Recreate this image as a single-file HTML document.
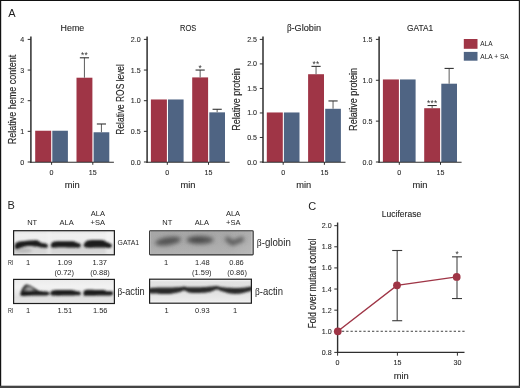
<!DOCTYPE html>
<html><head><meta charset="utf-8"><style>
html,body{margin:0;padding:0;background:#fff;}
body{width:520px;height:388px;overflow:hidden;position:relative;}
svg{position:absolute;left:0;top:0;display:block;will-change:transform;}
</style></head><body>
<svg width="520" height="388" viewBox="0 0 520 388" font-family='"Liberation Sans", sans-serif'>
<defs>
<filter id="b1" x="-20%" y="-80%" width="140%" height="260%"><feGaussianBlur stdDeviation="1.05"/></filter>
<filter id="b1b" x="-30%" y="-100%" width="160%" height="300%"><feGaussianBlur stdDeviation="1.6"/></filter>
<filter id="b2" x="-30%" y="-100%" width="160%" height="300%"><feGaussianBlur stdDeviation="2.3"/></filter>
<filter id="b3" x="-20%" y="-80%" width="140%" height="260%"><feGaussianBlur stdDeviation="1.25"/></filter>
<filter id="noise" x="0" y="0" width="100%" height="100%"><feTurbulence type="fractalNoise" baseFrequency="0.9" numOctaves="1" seed="3" result="t"/><feColorMatrix in="t" type="matrix" values="0 0 0 0 0.5  0 0 0 0 0.5  0 0 0 0 0.5  0 0 0 0.12 0"/></filter>
<linearGradient id="gbg1" x1="0" y1="231" x2="0" y2="255" gradientUnits="userSpaceOnUse">
 <stop offset="0" stop-color="#e2e2e2"/><stop offset="0.14" stop-color="#efefef"/><stop offset="0.35" stop-color="#eeeeee"/>
 <stop offset="0.72" stop-color="#d4d4d4"/><stop offset="0.9" stop-color="#d8d8d8"/><stop offset="1" stop-color="#e6e6e6"/></linearGradient>
<linearGradient id="gbg2" x1="0" y1="280" x2="0" y2="303" gradientUnits="userSpaceOnUse">
 <stop offset="0" stop-color="#ececec"/><stop offset="0.3" stop-color="#f2f2f2"/><stop offset="0.75" stop-color="#e0e0e0"/><stop offset="1" stop-color="#e6e6e6"/></linearGradient>
<linearGradient id="gbg3" x1="0" y1="231" x2="0" y2="255" gradientUnits="userSpaceOnUse">
 <stop offset="0" stop-color="#a4a4a4"/><stop offset="0.5" stop-color="#a8a8a8"/><stop offset="1" stop-color="#b0b0b0"/></linearGradient>
<linearGradient id="gbg3h" x1="149" y1="0" x2="254" y2="0" gradientUnits="userSpaceOnUse">
 <stop offset="0" stop-color="#fff" stop-opacity="0"/><stop offset="0.75" stop-color="#fff" stop-opacity="0.02"/><stop offset="1" stop-color="#fff" stop-opacity="0.12"/></linearGradient>
<linearGradient id="gbg4" x1="0" y1="280" x2="0" y2="303" gradientUnits="userSpaceOnUse">
 <stop offset="0" stop-color="#f4f4f4"/><stop offset="0.08" stop-color="#e2e2e2"/><stop offset="0.5" stop-color="#e0e0e0"/><stop offset="0.9" stop-color="#ebebeb"/><stop offset="1" stop-color="#f6f6f6"/></linearGradient>
<clipPath id="c1"><rect x="13.6" y="230.7" width="100.8" height="24.1"/></clipPath>
<clipPath id="c2"><rect x="13.6" y="279.4" width="100.8" height="24.1"/></clipPath>
<clipPath id="c3"><rect x="149.6" y="230.7" width="103.6" height="24.2"/></clipPath>
<clipPath id="c4"><rect x="149.6" y="279.2" width="101.8" height="24.0"/></clipPath>
</defs>
<rect x="0" y="0" width="520" height="388" fill="#fff"/>
<rect x="35.20" y="130.74" width="16.0" height="31.26" fill="#9f3546"/>
<rect x="52.30" y="130.74" width="15.6" height="31.26" fill="#4f6483"/>
<rect x="76.50" y="77.71" width="15.9" height="84.29" fill="#9f3546"/>
<line x1="84.45" y1="77.71" x2="84.45" y2="57.79" stroke="#6a6a6a" stroke-width="1.1"/>
<line x1="79.85" y1="57.79" x2="89.05" y2="57.79" stroke="#333" stroke-width="1.1"/>
<rect x="93.60" y="132.27" width="15.7" height="29.73" fill="#4f6483"/>
<line x1="101.45" y1="132.27" x2="101.45" y2="123.99" stroke="#6a6a6a" stroke-width="1.1"/>
<line x1="96.85" y1="123.99" x2="106.05" y2="123.99" stroke="#333" stroke-width="1.1"/>
<text x="84.50" y="58.29" font-size="8.3" text-anchor="middle" fill="#333" font-family='"Liberation Sans", sans-serif' letter-spacing="0.3">**</text>
<line x1="30.90" y1="36.6" x2="30.90" y2="162.80" stroke="#2e2e2e" stroke-width="1.5"/>
<line x1="30.20" y1="162.30" x2="113.90" y2="162.30" stroke="#2e2e2e" stroke-width="1.1"/>
<line x1="27.70" y1="162.00" x2="30.90" y2="162.00" stroke="#2e2e2e" stroke-width="1"/>
<text x="24.30" y="164.50" font-size="7.1" text-anchor="end" fill="#262626" stroke="#262626" stroke-width="0.08" font-family='"Liberation Sans", sans-serif' >0</text>
<line x1="27.70" y1="131.35" x2="30.90" y2="131.35" stroke="#2e2e2e" stroke-width="1"/>
<text x="24.30" y="133.85" font-size="7.1" text-anchor="end" fill="#262626" stroke="#262626" stroke-width="0.08" font-family='"Liberation Sans", sans-serif' >1</text>
<line x1="27.70" y1="100.70" x2="30.90" y2="100.70" stroke="#2e2e2e" stroke-width="1"/>
<text x="24.30" y="103.20" font-size="7.1" text-anchor="end" fill="#262626" stroke="#262626" stroke-width="0.08" font-family='"Liberation Sans", sans-serif' >2</text>
<line x1="27.70" y1="70.05" x2="30.90" y2="70.05" stroke="#2e2e2e" stroke-width="1"/>
<text x="24.30" y="72.55" font-size="7.1" text-anchor="end" fill="#262626" stroke="#262626" stroke-width="0.08" font-family='"Liberation Sans", sans-serif' >3</text>
<line x1="27.70" y1="39.40" x2="30.90" y2="39.40" stroke="#2e2e2e" stroke-width="1"/>
<text x="24.30" y="41.90" font-size="7.1" text-anchor="end" fill="#262626" stroke="#262626" stroke-width="0.08" font-family='"Liberation Sans", sans-serif' >4</text>
<line x1="51.60" y1="162.00" x2="51.60" y2="164.80" stroke="#2e2e2e" stroke-width="1"/>
<text x="51.60" y="174.70" font-size="7.1" text-anchor="middle" fill="#262626" stroke="#262626" stroke-width="0.08" font-family='"Liberation Sans", sans-serif' >0</text>
<line x1="92.80" y1="162.00" x2="92.80" y2="164.80" stroke="#2e2e2e" stroke-width="1"/>
<text x="92.80" y="174.70" font-size="7.1" text-anchor="middle" fill="#262626" stroke="#262626" stroke-width="0.08" font-family='"Liberation Sans", sans-serif' >15</text>
<text x="72.20" y="188.00" font-size="9.2" text-anchor="middle" fill="#262626" stroke="#262626" stroke-width="0.12" font-family='"Liberation Sans", sans-serif' textLength="15.0" lengthAdjust="spacingAndGlyphs" >min</text>
<text x="72.40" y="31.40" font-size="9.6" text-anchor="middle" fill="#262626" stroke="#262626" stroke-width="0.12" font-family='"Liberation Sans", sans-serif' textLength="23.6" lengthAdjust="spacingAndGlyphs" >Heme</text>
<text transform="translate(15.60,99.40) rotate(-90)" x="0" y="0" font-size="10.1" text-anchor="middle" fill="#262626" stroke="#262626" stroke-width="0.15" font-family='"Liberation Sans", sans-serif' textLength="89.5" lengthAdjust="spacingAndGlyphs">Relative heme content</text>
<rect x="150.90" y="99.47" width="16.0" height="62.53" fill="#9f3546"/>
<rect x="168.00" y="99.47" width="15.6" height="62.53" fill="#4f6483"/>
<rect x="192.20" y="77.41" width="15.9" height="84.59" fill="#9f3546"/>
<line x1="200.15" y1="77.41" x2="200.15" y2="70.05" stroke="#6a6a6a" stroke-width="1.1"/>
<line x1="195.55" y1="70.05" x2="204.75" y2="70.05" stroke="#333" stroke-width="1.1"/>
<rect x="209.30" y="112.35" width="15.7" height="49.65" fill="#4f6483"/>
<line x1="217.15" y1="112.35" x2="217.15" y2="109.28" stroke="#6a6a6a" stroke-width="1.1"/>
<line x1="212.55" y1="109.28" x2="221.75" y2="109.28" stroke="#333" stroke-width="1.1"/>
<text x="200.20" y="70.55" font-size="8.3" text-anchor="middle" fill="#333" font-family='"Liberation Sans", sans-serif' letter-spacing="0.3">*</text>
<line x1="147.10" y1="36.6" x2="147.10" y2="162.80" stroke="#2e2e2e" stroke-width="1.5"/>
<line x1="146.40" y1="162.30" x2="229.60" y2="162.30" stroke="#2e2e2e" stroke-width="1.1"/>
<line x1="143.90" y1="162.00" x2="147.10" y2="162.00" stroke="#2e2e2e" stroke-width="1"/>
<text x="140.60" y="164.50" font-size="7.1" text-anchor="end" fill="#262626" stroke="#262626" stroke-width="0.08" font-family='"Liberation Sans", sans-serif' >0.0</text>
<line x1="143.90" y1="131.35" x2="147.10" y2="131.35" stroke="#2e2e2e" stroke-width="1"/>
<text x="140.60" y="133.85" font-size="7.1" text-anchor="end" fill="#262626" stroke="#262626" stroke-width="0.08" font-family='"Liberation Sans", sans-serif' >0.5</text>
<line x1="143.90" y1="100.70" x2="147.10" y2="100.70" stroke="#2e2e2e" stroke-width="1"/>
<text x="140.60" y="103.20" font-size="7.1" text-anchor="end" fill="#262626" stroke="#262626" stroke-width="0.08" font-family='"Liberation Sans", sans-serif' >1.0</text>
<line x1="143.90" y1="70.05" x2="147.10" y2="70.05" stroke="#2e2e2e" stroke-width="1"/>
<text x="140.60" y="72.55" font-size="7.1" text-anchor="end" fill="#262626" stroke="#262626" stroke-width="0.08" font-family='"Liberation Sans", sans-serif' >1.5</text>
<line x1="143.90" y1="39.40" x2="147.10" y2="39.40" stroke="#2e2e2e" stroke-width="1"/>
<text x="140.60" y="41.90" font-size="7.1" text-anchor="end" fill="#262626" stroke="#262626" stroke-width="0.08" font-family='"Liberation Sans", sans-serif' >2.0</text>
<line x1="167.30" y1="162.00" x2="167.30" y2="164.80" stroke="#2e2e2e" stroke-width="1"/>
<text x="167.30" y="174.70" font-size="7.1" text-anchor="middle" fill="#262626" stroke="#262626" stroke-width="0.08" font-family='"Liberation Sans", sans-serif' >0</text>
<line x1="208.50" y1="162.00" x2="208.50" y2="164.80" stroke="#2e2e2e" stroke-width="1"/>
<text x="208.50" y="174.70" font-size="7.1" text-anchor="middle" fill="#262626" stroke="#262626" stroke-width="0.08" font-family='"Liberation Sans", sans-serif' >15</text>
<text x="187.90" y="188.00" font-size="9.2" text-anchor="middle" fill="#262626" stroke="#262626" stroke-width="0.12" font-family='"Liberation Sans", sans-serif' textLength="15.0" lengthAdjust="spacingAndGlyphs" >min</text>
<text x="188.10" y="31.40" font-size="9.6" text-anchor="middle" fill="#262626" stroke="#262626" stroke-width="0.12" font-family='"Liberation Sans", sans-serif' textLength="16.2" lengthAdjust="spacingAndGlyphs" >ROS</text>
<text transform="translate(124.40,99.40) rotate(-90)" x="0" y="0" font-size="10.1" text-anchor="middle" fill="#262626" stroke="#262626" stroke-width="0.15" font-family='"Liberation Sans", sans-serif' textLength="70.5" lengthAdjust="spacingAndGlyphs">Relative ROS level</text>
<rect x="266.80" y="112.47" width="16.0" height="49.53" fill="#9f3546"/>
<rect x="283.90" y="112.47" width="15.6" height="49.53" fill="#4f6483"/>
<rect x="308.10" y="74.22" width="15.9" height="87.78" fill="#9f3546"/>
<line x1="316.05" y1="74.22" x2="316.05" y2="66.37" stroke="#6a6a6a" stroke-width="1.1"/>
<line x1="311.45" y1="66.37" x2="320.65" y2="66.37" stroke="#333" stroke-width="1.1"/>
<rect x="325.20" y="108.79" width="15.7" height="53.21" fill="#4f6483"/>
<line x1="333.05" y1="108.79" x2="333.05" y2="100.95" stroke="#6a6a6a" stroke-width="1.1"/>
<line x1="328.45" y1="100.95" x2="337.65" y2="100.95" stroke="#333" stroke-width="1.1"/>
<text x="316.10" y="66.87" font-size="8.3" text-anchor="middle" fill="#333" font-family='"Liberation Sans", sans-serif' letter-spacing="0.3">**</text>
<line x1="263.00" y1="36.6" x2="263.00" y2="162.80" stroke="#2e2e2e" stroke-width="1.5"/>
<line x1="262.30" y1="162.30" x2="345.50" y2="162.30" stroke="#2e2e2e" stroke-width="1.1"/>
<line x1="259.80" y1="162.00" x2="263.00" y2="162.00" stroke="#2e2e2e" stroke-width="1"/>
<text x="257.00" y="164.50" font-size="7.1" text-anchor="end" fill="#262626" stroke="#262626" stroke-width="0.08" font-family='"Liberation Sans", sans-serif' >0.0</text>
<line x1="259.80" y1="137.48" x2="263.00" y2="137.48" stroke="#2e2e2e" stroke-width="1"/>
<text x="257.00" y="139.98" font-size="7.1" text-anchor="end" fill="#262626" stroke="#262626" stroke-width="0.08" font-family='"Liberation Sans", sans-serif' >0.5</text>
<line x1="259.80" y1="112.96" x2="263.00" y2="112.96" stroke="#2e2e2e" stroke-width="1"/>
<text x="257.00" y="115.46" font-size="7.1" text-anchor="end" fill="#262626" stroke="#262626" stroke-width="0.08" font-family='"Liberation Sans", sans-serif' >1.0</text>
<line x1="259.80" y1="88.44" x2="263.00" y2="88.44" stroke="#2e2e2e" stroke-width="1"/>
<text x="257.00" y="90.94" font-size="7.1" text-anchor="end" fill="#262626" stroke="#262626" stroke-width="0.08" font-family='"Liberation Sans", sans-serif' >1.5</text>
<line x1="259.80" y1="63.92" x2="263.00" y2="63.92" stroke="#2e2e2e" stroke-width="1"/>
<text x="257.00" y="66.42" font-size="7.1" text-anchor="end" fill="#262626" stroke="#262626" stroke-width="0.08" font-family='"Liberation Sans", sans-serif' >2.0</text>
<line x1="259.80" y1="39.40" x2="263.00" y2="39.40" stroke="#2e2e2e" stroke-width="1"/>
<text x="257.00" y="41.90" font-size="7.1" text-anchor="end" fill="#262626" stroke="#262626" stroke-width="0.08" font-family='"Liberation Sans", sans-serif' >2.5</text>
<line x1="283.20" y1="162.00" x2="283.20" y2="164.80" stroke="#2e2e2e" stroke-width="1"/>
<text x="283.20" y="174.70" font-size="7.1" text-anchor="middle" fill="#262626" stroke="#262626" stroke-width="0.08" font-family='"Liberation Sans", sans-serif' >0</text>
<line x1="324.40" y1="162.00" x2="324.40" y2="164.80" stroke="#2e2e2e" stroke-width="1"/>
<text x="324.40" y="174.70" font-size="7.1" text-anchor="middle" fill="#262626" stroke="#262626" stroke-width="0.08" font-family='"Liberation Sans", sans-serif' >15</text>
<text x="303.80" y="188.00" font-size="9.2" text-anchor="middle" fill="#262626" stroke="#262626" stroke-width="0.12" font-family='"Liberation Sans", sans-serif' textLength="15.0" lengthAdjust="spacingAndGlyphs" >min</text>
<text x="304.00" y="31.40" font-size="9.6" text-anchor="middle" fill="#262626" stroke="#262626" stroke-width="0.12" font-family='"Liberation Sans", sans-serif' textLength="34.2" lengthAdjust="spacingAndGlyphs" ><tspan font-family='"Liberation Serif", serif'>&#946;</tspan>-Globin</text>
<text transform="translate(240.20,99.40) rotate(-90)" x="0" y="0" font-size="10.1" text-anchor="middle" fill="#262626" stroke="#262626" stroke-width="0.15" font-family='"Liberation Sans", sans-serif' textLength="62.5" lengthAdjust="spacingAndGlyphs">Relative protein</text>
<rect x="382.90" y="79.45" width="16.0" height="82.55" fill="#9f3546"/>
<rect x="400.00" y="79.45" width="15.6" height="82.55" fill="#4f6483"/>
<rect x="424.20" y="108.22" width="15.9" height="53.78" fill="#9f3546"/>
<line x1="432.15" y1="108.22" x2="432.15" y2="105.52" stroke="#6a6a6a" stroke-width="1.1"/>
<line x1="427.55" y1="105.52" x2="436.75" y2="105.52" stroke="#333" stroke-width="1.1"/>
<rect x="441.30" y="83.70" width="15.7" height="78.30" fill="#4f6483"/>
<line x1="449.15" y1="83.70" x2="449.15" y2="68.42" stroke="#6a6a6a" stroke-width="1.1"/>
<line x1="444.55" y1="68.42" x2="453.75" y2="68.42" stroke="#333" stroke-width="1.1"/>
<text x="432.20" y="106.02" font-size="8.3" text-anchor="middle" fill="#333" font-family='"Liberation Sans", sans-serif' letter-spacing="0.3">***</text>
<line x1="379.10" y1="36.6" x2="379.10" y2="162.80" stroke="#2e2e2e" stroke-width="1.5"/>
<line x1="378.40" y1="162.30" x2="461.60" y2="162.30" stroke="#2e2e2e" stroke-width="1.1"/>
<line x1="375.90" y1="162.00" x2="379.10" y2="162.00" stroke="#2e2e2e" stroke-width="1"/>
<text x="372.40" y="164.50" font-size="7.1" text-anchor="end" fill="#262626" stroke="#262626" stroke-width="0.08" font-family='"Liberation Sans", sans-serif' >0.0</text>
<line x1="375.90" y1="121.13" x2="379.10" y2="121.13" stroke="#2e2e2e" stroke-width="1"/>
<text x="372.40" y="123.63" font-size="7.1" text-anchor="end" fill="#262626" stroke="#262626" stroke-width="0.08" font-family='"Liberation Sans", sans-serif' >0.5</text>
<line x1="375.90" y1="80.27" x2="379.10" y2="80.27" stroke="#2e2e2e" stroke-width="1"/>
<text x="372.40" y="82.77" font-size="7.1" text-anchor="end" fill="#262626" stroke="#262626" stroke-width="0.08" font-family='"Liberation Sans", sans-serif' >1.0</text>
<line x1="375.90" y1="39.40" x2="379.10" y2="39.40" stroke="#2e2e2e" stroke-width="1"/>
<text x="372.40" y="41.90" font-size="7.1" text-anchor="end" fill="#262626" stroke="#262626" stroke-width="0.08" font-family='"Liberation Sans", sans-serif' >1.5</text>
<line x1="399.30" y1="162.00" x2="399.30" y2="164.80" stroke="#2e2e2e" stroke-width="1"/>
<text x="399.30" y="174.70" font-size="7.1" text-anchor="middle" fill="#262626" stroke="#262626" stroke-width="0.08" font-family='"Liberation Sans", sans-serif' >0</text>
<line x1="440.50" y1="162.00" x2="440.50" y2="164.80" stroke="#2e2e2e" stroke-width="1"/>
<text x="440.50" y="174.70" font-size="7.1" text-anchor="middle" fill="#262626" stroke="#262626" stroke-width="0.08" font-family='"Liberation Sans", sans-serif' >15</text>
<text x="419.90" y="188.00" font-size="9.2" text-anchor="middle" fill="#262626" stroke="#262626" stroke-width="0.12" font-family='"Liberation Sans", sans-serif' textLength="15.0" lengthAdjust="spacingAndGlyphs" >min</text>
<text x="420.10" y="31.40" font-size="9.6" text-anchor="middle" fill="#262626" stroke="#262626" stroke-width="0.12" font-family='"Liberation Sans", sans-serif' textLength="26.0" lengthAdjust="spacingAndGlyphs" >GATA1</text>
<text transform="translate(356.80,99.40) rotate(-90)" x="0" y="0" font-size="10.1" text-anchor="middle" fill="#262626" stroke="#262626" stroke-width="0.15" font-family='"Liberation Sans", sans-serif' textLength="63" lengthAdjust="spacingAndGlyphs">Relative protein</text>
<text x="8.20" y="16.60" font-size="11" text-anchor="start" fill="#1e1e1e" font-family='"Liberation Sans", sans-serif' >A</text>
<text x="7.50" y="209.30" font-size="11" text-anchor="start" fill="#1e1e1e" font-family='"Liberation Sans", sans-serif' >B</text>
<text x="308.30" y="210.10" font-size="11" text-anchor="start" fill="#1e1e1e" font-family='"Liberation Sans", sans-serif' >C</text>
<rect x="463.8" y="39" width="13.7" height="9.8" fill="#9f3546"/>
<rect x="463.8" y="51.9" width="13.7" height="8.8" fill="#4f6483"/>
<text x="480.30" y="46.40" font-size="7.3" text-anchor="start" fill="#262626" font-family='"Liberation Sans", sans-serif' textLength="12.2" lengthAdjust="spacingAndGlyphs" >ALA</text>
<text x="480.30" y="58.90" font-size="7.3" text-anchor="start" fill="#262626" font-family='"Liberation Sans", sans-serif' textLength="28.4" lengthAdjust="spacingAndGlyphs" >ALA + SA</text>
<line x1="337.60" y1="222.5" x2="337.60" y2="352.90" stroke="#2e2e2e" stroke-width="1.4"/>
<line x1="336.90" y1="352.40" x2="464.5" y2="352.40" stroke="#2e2e2e" stroke-width="1.1"/>
<line x1="334.30" y1="352.40" x2="337.60" y2="352.40" stroke="#2e2e2e" stroke-width="1"/>
<text x="331.70" y="354.90" font-size="7.1" text-anchor="end" fill="#262626" stroke="#262626" stroke-width="0.08" font-family='"Liberation Sans", sans-serif' >0.8</text>
<line x1="334.30" y1="331.28" x2="337.60" y2="331.28" stroke="#2e2e2e" stroke-width="1"/>
<text x="331.70" y="333.78" font-size="7.1" text-anchor="end" fill="#262626" stroke="#262626" stroke-width="0.08" font-family='"Liberation Sans", sans-serif' >1.0</text>
<line x1="334.30" y1="310.16" x2="337.60" y2="310.16" stroke="#2e2e2e" stroke-width="1"/>
<text x="331.70" y="312.66" font-size="7.1" text-anchor="end" fill="#262626" stroke="#262626" stroke-width="0.08" font-family='"Liberation Sans", sans-serif' >1.2</text>
<line x1="334.30" y1="289.04" x2="337.60" y2="289.04" stroke="#2e2e2e" stroke-width="1"/>
<text x="331.70" y="291.54" font-size="7.1" text-anchor="end" fill="#262626" stroke="#262626" stroke-width="0.08" font-family='"Liberation Sans", sans-serif' >1.4</text>
<line x1="334.30" y1="267.92" x2="337.60" y2="267.92" stroke="#2e2e2e" stroke-width="1"/>
<text x="331.70" y="270.42" font-size="7.1" text-anchor="end" fill="#262626" stroke="#262626" stroke-width="0.08" font-family='"Liberation Sans", sans-serif' >1.6</text>
<line x1="334.30" y1="246.80" x2="337.60" y2="246.80" stroke="#2e2e2e" stroke-width="1"/>
<text x="331.70" y="249.30" font-size="7.1" text-anchor="end" fill="#262626" stroke="#262626" stroke-width="0.08" font-family='"Liberation Sans", sans-serif' >1.8</text>
<line x1="334.30" y1="225.68" x2="337.60" y2="225.68" stroke="#2e2e2e" stroke-width="1"/>
<text x="331.70" y="228.18" font-size="7.1" text-anchor="end" fill="#262626" stroke="#262626" stroke-width="0.08" font-family='"Liberation Sans", sans-serif' >2.0</text>
<line x1="337.60" y1="352.40" x2="337.60" y2="355.70" stroke="#2e2e2e" stroke-width="1"/>
<text x="337.60" y="365.10" font-size="7.1" text-anchor="middle" fill="#262626" stroke="#262626" stroke-width="0.08" font-family='"Liberation Sans", sans-serif' >0</text>
<line x1="397.40" y1="352.40" x2="397.40" y2="355.70" stroke="#2e2e2e" stroke-width="1"/>
<text x="397.40" y="365.10" font-size="7.1" text-anchor="middle" fill="#262626" stroke="#262626" stroke-width="0.08" font-family='"Liberation Sans", sans-serif' >15</text>
<line x1="457.40" y1="352.40" x2="457.40" y2="355.70" stroke="#2e2e2e" stroke-width="1"/>
<text x="457.40" y="365.10" font-size="7.1" text-anchor="middle" fill="#262626" stroke="#262626" stroke-width="0.08" font-family='"Liberation Sans", sans-serif' >30</text>
<text x="401.30" y="378.70" font-size="9.2" text-anchor="middle" fill="#262626" stroke="#262626" stroke-width="0.12" font-family='"Liberation Sans", sans-serif' textLength="15.0" lengthAdjust="spacingAndGlyphs" >min</text>
<text x="401.50" y="216.80" font-size="9.3" text-anchor="middle" fill="#262626" stroke="#262626" stroke-width="0.12" font-family='"Liberation Sans", sans-serif' textLength="39.3" lengthAdjust="spacingAndGlyphs" >Luciferase</text>
<text transform="translate(316.30,283.50) rotate(-90)" x="0" y="0" font-size="10.1" text-anchor="middle" fill="#262626" stroke="#262626" stroke-width="0.15" font-family='"Liberation Sans", sans-serif' textLength="89.7" lengthAdjust="spacingAndGlyphs">Fold over mutant control</text>
<line x1="337.60" y1="331.28" x2="466" y2="331.28" stroke="#2a2a2a" stroke-width="0.9" stroke-dasharray="2.3,2"/>
<line x1="397.2" y1="320.72" x2="397.2" y2="250.50" stroke="#555" stroke-width="1.2"/>
<line x1="392.2" y1="320.72" x2="402.2" y2="320.72" stroke="#3a3a3a" stroke-width="1.1"/>
<line x1="392.2" y1="250.50" x2="402.2" y2="250.50" stroke="#3a3a3a" stroke-width="1.1"/>
<line x1="457.0" y1="298.54" x2="457.0" y2="256.83" stroke="#555" stroke-width="1.2"/>
<line x1="452.0" y1="298.54" x2="462.0" y2="298.54" stroke="#3a3a3a" stroke-width="1.1"/>
<line x1="452.0" y1="256.83" x2="462.0" y2="256.83" stroke="#3a3a3a" stroke-width="1.1"/>
<text x="457.00" y="257.33" font-size="8.3" text-anchor="middle" fill="#333" font-family='"Liberation Sans", sans-serif' >*</text>
<polyline points="337.80,331.28 397.00,285.34 456.70,276.90" fill="none" stroke="#9f3546" stroke-width="1.4"/>
<circle cx="337.80" cy="331.28" r="3.9" fill="#9f3546"/>
<circle cx="397.00" cy="285.34" r="3.9" fill="#9f3546"/>
<circle cx="456.70" cy="276.90" r="3.9" fill="#9f3546"/>
<g clip-path="url(#c1)">
<rect x="13" y="230" width="102" height="26" fill="url(#gbg1)"/>
<rect x="106" y="231" width="8" height="24" fill="#f4f4f4" opacity="0.6" filter="url(#b1b)"/>
<rect x="47" y="231" width="4" height="24" fill="#f4f4f4" opacity="0.5" filter="url(#b1b)"/>
<ellipse cx="23" cy="250.5" rx="9" ry="2.6" fill="#b8b8b8" filter="url(#b1b)"/>
<g filter="url(#b1)" fill="#1c1c1c">
<path d="M15.00,244.50 C15.25,243.63 15.83,243.25 16.50,242.80 C17.17,242.35 17.58,242.10 19.00,241.80 C20.42,241.50 23.17,241.20 25.00,241.00 C26.83,240.80 28.33,240.73 30.00,240.60 C31.67,240.47 33.75,240.23 35.00,240.20 C36.25,240.17 36.75,240.13 37.50,240.40 C38.25,240.67 38.75,241.33 39.50,241.80 C40.25,242.27 41.08,242.93 42.00,243.20 C42.92,243.47 44.08,243.18 45.00,243.40 C45.92,243.62 47.08,243.85 47.50,244.50 C47.92,245.15 48.08,246.75 47.50,247.30 C46.92,247.85 45.25,247.82 44.00,247.80 C42.75,247.78 41.33,247.40 40.00,247.20 C38.67,247.00 37.67,246.80 36.00,246.60 C34.33,246.40 31.83,246.03 30.00,246.00 C28.17,245.97 26.67,246.07 25.00,246.40 C23.33,246.73 21.33,247.57 20.00,248.00 C18.67,248.43 17.83,249.00 17.00,249.00 C16.17,249.00 15.33,248.75 15.00,248.00 C14.67,247.25 14.75,245.37 15.00,244.50 Z"/>
<path d="M51.00,244.20 C51.22,243.52 51.63,242.95 52.30,242.50 C52.97,242.05 52.88,241.70 55.00,241.50 C57.12,241.30 61.83,241.32 65.00,241.30 C68.17,241.28 72.17,241.20 74.00,241.40 C75.83,241.60 75.33,242.25 76.00,242.50 C76.67,242.75 77.25,242.60 78.00,242.90 C78.75,243.20 80.08,243.65 80.50,244.30 C80.92,244.95 80.92,246.25 80.50,246.80 C80.08,247.35 79.75,247.48 78.00,247.60 C76.25,247.72 73.00,247.55 70.00,247.50 C67.00,247.45 62.83,247.27 60.00,247.30 C57.17,247.33 54.50,247.82 53.00,247.70 C51.50,247.58 51.33,247.18 51.00,246.60 C50.67,246.02 50.78,244.88 51.00,244.20 Z"/>
<path d="M84.00,244.00 C84.23,243.23 84.83,242.58 85.50,242.00 C86.17,241.42 86.25,240.82 88.00,240.50 C89.75,240.18 93.33,240.12 96.00,240.10 C98.67,240.08 102.40,240.13 104.00,240.40 C105.60,240.67 104.93,241.37 105.60,241.70 C106.27,242.03 107.00,241.95 108.00,242.40 C109.00,242.85 111.03,243.63 111.60,244.40 C112.17,245.17 112.00,246.40 111.40,247.00 C110.80,247.60 109.23,247.90 108.00,248.00 C106.77,248.10 106.17,247.68 104.00,247.60 C101.83,247.52 97.67,247.48 95.00,247.50 C92.33,247.52 89.82,247.85 88.00,247.70 C86.18,247.55 84.77,247.22 84.10,246.60 C83.43,245.98 83.77,244.77 84.00,244.00 Z"/>
</g></g>
<rect x="13.6" y="230.7" width="100.8" height="24.1" fill="none" stroke="#1e1e1e" stroke-width="1.2"/>
<g clip-path="url(#c2)">
<rect x="13" y="279" width="102" height="26" fill="url(#gbg2)"/>
<line x1="14" y1="293.6" x2="22" y2="293.6" stroke="#b0b0b0" stroke-width="1.3" filter="url(#b1)"/>
<g filter="url(#b1)" fill="#1c1c1c">
<path d="M21.20,293.50 C19.95,293.08 21.87,290.72 22.50,289.50 C23.13,288.28 24.17,286.97 25.00,286.20 C25.83,285.43 26.67,285.00 27.50,284.90 C28.33,284.80 29.08,285.15 30.00,285.60 C30.92,286.05 31.92,286.90 33.00,287.60 C34.08,288.30 35.50,289.20 36.50,289.80 C37.50,290.40 40.08,290.83 39.00,291.20 C37.92,291.57 32.97,291.62 30.00,292.00 C27.03,292.38 22.45,293.92 21.20,293.50 Z" fill="#6e6e6e"/>
<path d="M21.6,293.8 C22.2,290 24,287 26.5,285.4" fill="none" stroke="#222" stroke-width="2.0" stroke-linecap="round"/>
<path d="M27.5,285.3 C31,286.3 34.5,288.5 38,291.0" fill="none" stroke="#3a3a3a" stroke-width="1.4" stroke-linecap="round"/>
<ellipse cx="29.5" cy="289.0" rx="3.0" ry="1.8" fill="#a4a4a4"/>
<path d="M20.80,292.40 C21.50,291.67 22.63,291.28 25.00,291.00 C27.37,290.72 32.17,290.67 35.00,290.70 C37.83,290.73 39.73,290.98 42.00,291.20 C44.27,291.42 47.50,291.35 48.60,292.00 C49.70,292.65 49.70,294.50 48.60,295.10 C47.50,295.70 44.27,295.53 42.00,295.60 C39.73,295.67 37.83,295.45 35.00,295.50 C32.17,295.55 27.37,295.92 25.00,295.90 C22.63,295.88 21.50,295.98 20.80,295.40 C20.10,294.82 20.10,293.13 20.80,292.40 Z"/>
<path d="M50.60,292.20 C50.98,291.48 51.43,290.77 53.00,290.40 C54.57,290.03 57.17,290.07 60.00,290.00 C62.83,289.93 67.67,289.93 70.00,290.00 C72.33,290.07 72.83,290.18 74.00,290.40 C75.17,290.62 75.93,291.03 77.00,291.30 C78.07,291.57 79.83,291.40 80.40,292.00 C80.97,292.60 80.97,294.35 80.40,294.90 C79.83,295.45 78.73,295.18 77.00,295.30 C75.27,295.42 72.83,295.53 70.00,295.60 C67.17,295.67 62.83,295.70 60.00,295.70 C57.17,295.70 54.55,295.77 53.00,295.60 C51.45,295.43 51.10,295.27 50.70,294.70 C50.30,294.13 50.22,292.92 50.60,292.20 Z"/>
<path d="M83.60,292.10 C83.98,291.33 84.10,290.47 86.00,290.10 C87.90,289.73 92.00,289.92 95.00,289.90 C98.00,289.88 102.17,289.83 104.00,290.00 C105.83,290.17 104.60,290.63 106.00,290.90 C107.40,291.17 111.33,290.93 112.40,291.60 C113.47,292.27 113.47,294.23 112.40,294.90 C111.33,295.57 108.90,295.47 106.00,295.60 C103.10,295.73 98.33,295.68 95.00,295.70 C91.67,295.72 87.88,295.87 86.00,295.70 C84.12,295.53 84.10,295.30 83.70,294.70 C83.30,294.10 83.22,292.87 83.60,292.10 Z"/>
</g></g>
<rect x="13.6" y="279.4" width="100.8" height="24.1" fill="none" stroke="#1e1e1e" stroke-width="1.2"/>
<g clip-path="url(#c3)">
<rect x="149" y="229" width="106" height="27" fill="url(#gbg3)"/>
<rect x="149" y="229" width="106" height="27" filter="url(#noise)"/>
<rect x="149" y="229" width="106" height="27" fill="url(#gbg3h)"/>
<g filter="url(#b2)" fill="#525252">
<ellipse cx="168.0" cy="241.2" rx="13" ry="3.9" transform="rotate(-9 168 241.2)"/>
<ellipse cx="200" cy="240.0" rx="13.5" ry="4.0"/>
<ellipse cx="196" cy="239.8" rx="7" ry="2.8" fill="#4a4a4a"/>
<path d="M226,238.0 L232.5,243.2 L243.5,238.6" fill="none" stroke="#555" stroke-width="4.6" stroke-linejoin="round"/>
</g>
<line x1="150.4" y1="231" x2="150.4" y2="254.5" stroke="#dcdcdc" stroke-width="0.8"/>
<line x1="252.0" y1="231" x2="252.0" y2="254.5" stroke="#d0d0d0" stroke-width="0.9"/>
</g>
<rect x="149.6" y="230.7" width="103.6" height="24.2" rx="0.8" fill="none" stroke="#333" stroke-width="1.1"/>
<g clip-path="url(#c4)">
<rect x="149" y="278" width="104" height="27" fill="url(#gbg4)"/>
<g filter="url(#b3)" fill="#2a2a2a">
<path d="M149.00,288.60 C150.83,287.70 156.50,287.77 160.00,287.60 C163.50,287.43 166.67,287.68 170.00,287.60 C173.33,287.52 177.67,287.28 180.00,287.10 C182.33,286.92 182.67,286.48 184.00,286.50 C185.33,286.52 185.33,287.07 188.00,287.20 C190.67,287.33 196.33,287.40 200.00,287.30 C203.67,287.20 207.17,286.83 210.00,286.60 C212.83,286.37 215.17,285.83 217.00,285.90 C218.83,285.97 218.83,286.68 221.00,287.00 C223.17,287.32 227.17,287.62 230.00,287.80 C232.83,287.98 235.50,288.13 238.00,288.10 C240.50,288.07 242.67,287.85 245.00,287.60 C247.33,287.35 250.83,286.10 252.00,286.60 C253.17,287.10 253.17,289.63 252.00,290.60 C250.83,291.57 247.33,291.87 245.00,292.40 C242.67,292.93 240.50,293.63 238.00,293.80 C235.50,293.97 232.83,293.88 230.00,293.40 C227.17,292.92 223.17,291.53 221.00,290.90 C218.83,290.27 218.83,289.43 217.00,289.60 C215.17,289.77 212.83,291.35 210.00,291.90 C207.17,292.45 203.33,292.77 200.00,292.90 C196.67,293.03 192.67,293.08 190.00,292.70 C187.33,292.32 185.67,290.72 184.00,290.60 C182.33,290.48 182.33,291.45 180.00,292.00 C177.67,292.55 173.33,293.58 170.00,293.90 C166.67,294.22 163.50,294.05 160.00,293.90 C156.50,293.75 150.83,293.88 149.00,293.00 C147.17,292.12 147.17,289.50 149.00,288.60 Z"/>
</g></g>
<rect x="149.6" y="279.2" width="101.8" height="24.0" fill="none" stroke="#1e1e1e" stroke-width="1.2"/>
<text x="32.20" y="225.20" font-size="7.5" text-anchor="middle" fill="#262626" font-family='"Liberation Sans", sans-serif' >NT</text>
<text x="66.60" y="225.20" font-size="7.5" text-anchor="middle" fill="#262626" font-family='"Liberation Sans", sans-serif' >ALA</text>
<text x="97.80" y="225.20" font-size="7.5" text-anchor="middle" fill="#262626" font-family='"Liberation Sans", sans-serif' >+SA</text>
<text x="97.90" y="215.80" font-size="7.5" text-anchor="middle" fill="#262626" font-family='"Liberation Sans", sans-serif' >ALA</text>
<text x="117.60" y="245.20" font-size="7.9" text-anchor="start" fill="#262626" font-family='"Liberation Sans", sans-serif' textLength="21.5" lengthAdjust="spacingAndGlyphs" >GATA1</text>
<text x="7.90" y="264.80" font-size="7.5" text-anchor="start" fill="#262626" font-family='"Liberation Sans", sans-serif' textLength="5.4" lengthAdjust="spacingAndGlyphs" >RI</text>
<text x="28.20" y="264.80" font-size="7.5" text-anchor="middle" fill="#262626" font-family='"Liberation Sans", sans-serif' >1</text>
<text x="64.80" y="264.80" font-size="7.5" text-anchor="middle" fill="#262626" font-family='"Liberation Sans", sans-serif' >1.09</text>
<text x="99.70" y="264.80" font-size="7.5" text-anchor="middle" fill="#262626" font-family='"Liberation Sans", sans-serif' >1.37</text>
<text x="64.20" y="274.60" font-size="7.5" text-anchor="middle" fill="#262626" font-family='"Liberation Sans", sans-serif' >(0.72)</text>
<text x="100.00" y="274.60" font-size="7.5" text-anchor="middle" fill="#262626" font-family='"Liberation Sans", sans-serif' >(0.88)</text>
<text x="117.4" y="294.9" font-size="10.2" fill="#262626" stroke="#262626" stroke-width="0.0" font-family='"Liberation Sans", sans-serif' textLength="27.3" lengthAdjust="spacingAndGlyphs"><tspan font-family='"Liberation Serif", serif'>&#946;</tspan>-actin</text>
<text x="7.90" y="313.20" font-size="7.5" text-anchor="start" fill="#262626" font-family='"Liberation Sans", sans-serif' textLength="5.4" lengthAdjust="spacingAndGlyphs" >RI</text>
<text x="28.20" y="313.40" font-size="7.5" text-anchor="middle" fill="#262626" font-family='"Liberation Sans", sans-serif' >1</text>
<text x="64.80" y="313.40" font-size="7.5" text-anchor="middle" fill="#262626" font-family='"Liberation Sans", sans-serif' >1.51</text>
<text x="100.20" y="313.40" font-size="7.5" text-anchor="middle" fill="#262626" font-family='"Liberation Sans", sans-serif' >1.56</text>
<text x="167.30" y="225.20" font-size="7.5" text-anchor="middle" fill="#262626" font-family='"Liberation Sans", sans-serif' >NT</text>
<text x="201.80" y="225.20" font-size="7.5" text-anchor="middle" fill="#262626" font-family='"Liberation Sans", sans-serif' >ALA</text>
<text x="233.30" y="225.20" font-size="7.5" text-anchor="middle" fill="#262626" font-family='"Liberation Sans", sans-serif' >+SA</text>
<text x="233.00" y="215.80" font-size="7.5" text-anchor="middle" fill="#262626" font-family='"Liberation Sans", sans-serif' >ALA</text>
<text x="256.8" y="245.7" font-size="10.2" fill="#262626" stroke="#262626" stroke-width="0.0" font-family='"Liberation Sans", sans-serif' textLength="34" lengthAdjust="spacingAndGlyphs"><tspan font-family='"Liberation Serif", serif'>&#946;</tspan>-globin</text>
<text x="166.10" y="264.80" font-size="7.5" text-anchor="middle" fill="#262626" font-family='"Liberation Sans", sans-serif' >1</text>
<text x="202.30" y="264.80" font-size="7.5" text-anchor="middle" fill="#262626" font-family='"Liberation Sans", sans-serif' >1.48</text>
<text x="236.50" y="264.80" font-size="7.5" text-anchor="middle" fill="#262626" font-family='"Liberation Sans", sans-serif' >0.86</text>
<text x="201.80" y="275.40" font-size="7.5" text-anchor="middle" fill="#262626" font-family='"Liberation Sans", sans-serif' >(1.59)</text>
<text x="237.10" y="275.40" font-size="7.5" text-anchor="middle" fill="#262626" font-family='"Liberation Sans", sans-serif' >(0.86)</text>
<text x="255" y="294.9" font-size="10.2" fill="#262626" stroke="#262626" stroke-width="0.0" font-family='"Liberation Sans", sans-serif' textLength="28" lengthAdjust="spacingAndGlyphs"><tspan font-family='"Liberation Serif", serif'>&#946;</tspan>-actin</text>
<text x="166.60" y="312.60" font-size="7.5" text-anchor="middle" fill="#262626" font-family='"Liberation Sans", sans-serif' >1</text>
<text x="202.30" y="312.60" font-size="7.5" text-anchor="middle" fill="#262626" font-family='"Liberation Sans", sans-serif' >0.93</text>
<text x="235.20" y="312.60" font-size="7.5" text-anchor="middle" fill="#262626" font-family='"Liberation Sans", sans-serif' >1</text>
<rect x="0" y="0" width="520" height="1" fill="#111"/>
<rect x="0" y="0" width="1.2" height="388" fill="#111"/>
<rect x="518.8" y="0" width="1.2" height="388" fill="#222"/>
<rect x="0" y="385.7" width="520" height="2.3" fill="#444"/>
</svg>
</body></html>
